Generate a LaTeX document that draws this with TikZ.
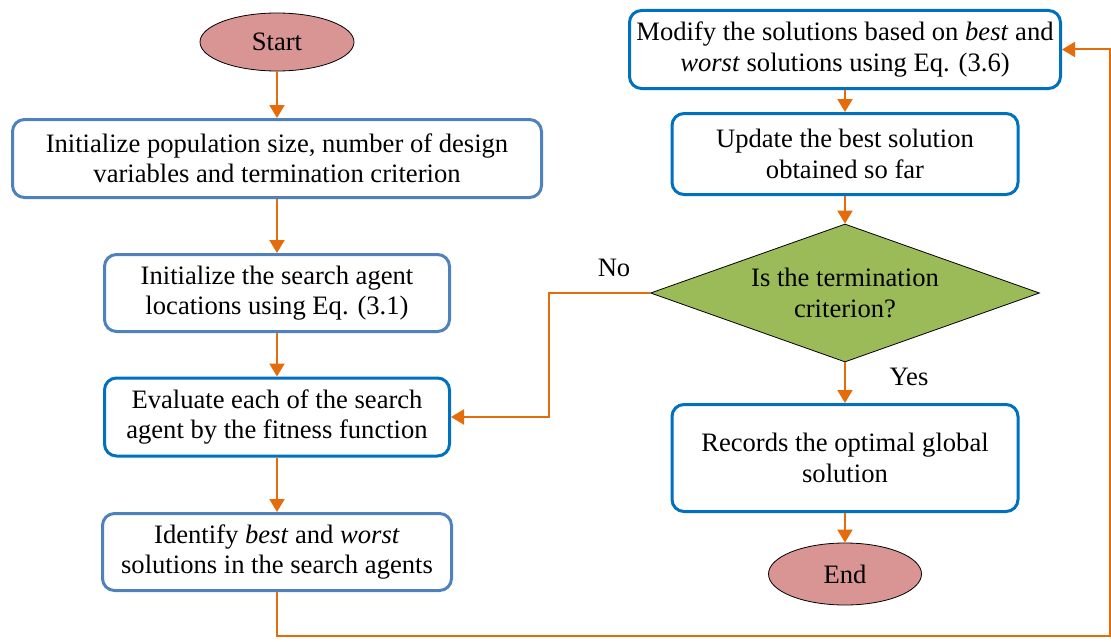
\documentclass[tikz,border=0pt]{standalone}
\usepackage{fontspec}
\setmainfont{Liberation Serif}
\usetikzlibrary{positioning, arrows.meta, shapes.geometric}
\definecolor{boxlight}{HTML}{4F81BD}
\definecolor{boxdark}{HTML}{0070C0}
\definecolor{flowline}{HTML}{E46C0A}
\definecolor{termfill}{HTML}{D99594}
\definecolor{checkfill}{HTML}{9BBB59}

\begin{document}
\begin{tikzpicture}[x=1pt, y=-1pt,
    font=\fontsize{26.6}{30.5}\selectfont,
    proc/.style={draw=boxlight, line width=3pt, rounded corners=12pt, fill=white, align=center, inner sep=0pt},
    procdark/.style={proc, draw=boxdark},
    term/.style={ellipse, draw=black, line width=0.8pt, fill=termfill, inner sep=0pt},
    flow/.style={draw=flowline, line width=2pt, -{Triangle[length=13pt, width=15pt]}}]
  \useasboundingbox (0,0) rectangle (1111,642);
  % left column
  \node[term, minimum width=154pt, minimum height=58pt] (start) at (277,42) {Start};
  \node[proc, minimum width=529pt, minimum height=78pt] (init) at (277,158.5) {Initialize population size, number of design\\variables and termination criterion};
  \node[proc, minimum width=345pt, minimum height=77pt] (agents) at (277,293) {Initialize the search agent\\locations using Eq. (3.1)};
  \node[procdark, minimum width=345pt, minimum height=78pt] (evaluate) at (277,417) {Evaluate each of the search\\agent by the fitness function};
  \node[proc, minimum width=349pt, minimum height=77pt] (identify) at (277,552) {Identify \textit{best} and \textit{worst}\\solutions in the search agents};
  % right column
  \node[procdark, minimum width=431pt, minimum height=78pt] (modify) at (845,49.5) {Modify the solutions based on \textit{best} and\\\textit{worst} solutions using Eq. (3.6)};
  \node[procdark, minimum width=346pt, minimum height=81pt] (update) at (845,154) {Update the best solution\\obtained so far};
  \node[diamond, draw=black, line width=0.8pt, fill=checkfill, aspect=2.82, inner sep=0pt,
        minimum width=389pt, minimum height=138pt, align=center] (check) at (845,293) {Is the termination\\criterion?};
  \node[procdark, minimum width=346pt, minimum height=107pt] (records) at (845,458) {Records the optimal global\\solution};
  \node[term, minimum width=153pt, minimum height=62pt] (end) at (845,574) {End};
  \node (nolabel) at (614,268) {No};
  \node (yeslabel) at (909,377) {Yes};
  \coordinate (loopcorner) at (1109.5,636);
  \coordinate (nocorner) at (549,293);

  \draw[flow] (start) -- (init);
  \draw[flow] (init) -- (agents);
  \draw[flow] (agents) -- (evaluate);
  \draw[flow] (evaluate) -- (identify);
  \draw[flow] (identify.south) |- (loopcorner) |- (modify.east);
  \draw[flow] (modify) -- (update);
  \draw[flow] (update) -- (check);
  \draw[flow] (check) -- (records);
  \draw[flow] (records) -- (end);
  \draw[flow] (check.west) -- (nocorner) |- (evaluate.east);
\end{tikzpicture}
\end{document}
